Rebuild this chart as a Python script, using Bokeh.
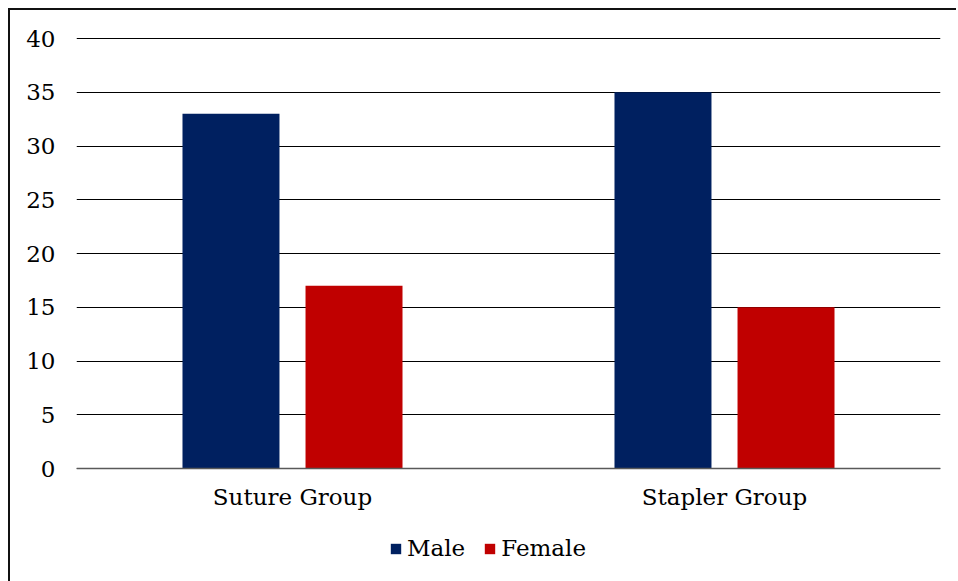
from bokeh.plotting import figure
from bokeh.models import ColumnDataSource, Legend, LegendItem, FixedTicker
from bokeh.transform import dodge
from bokeh.embed import file_html
from bokeh.resources import INLINE

categories = ["Suture Group", "Stapler Group"]
male = [33, 35]
female = [17, 15]
y_ticks = [0, 5, 10, 15, 20, 25, 30, 35, 40]
series_names = ["Male", "Female"]
colors = ["#002060", "#C00000"]

FONT = "DejaVu Serif"

src = ColumnDataSource(dict(cat=categories, male=male, female=female))

# y range extends below 0 so the category labels and legend sit inside the frame
p = figure(
    x_range=categories, y_range=(-9.674, 40.1),
    output_backend="svg", toolbar_location=None,
    min_border_left=66, min_border_right=16,
    min_border_top=27, min_border_bottom=12,
    frame_width=864, frame_height=535,
    outline_line_color=None,
    styles={"border-left": "2px solid #111111", "border-top": "2px solid #111111",
            "margin-left": "8px", "margin-top": "8px"},
)

r1 = p.vbar(x=dodge("cat", -0.1424, range=p.x_range), top="male", width=0.2245,
            source=src, fill_color=colors[0], line_color=None)
r2 = p.vbar(x=dodge("cat", 0.1424, range=p.x_range), top="female", width=0.2245,
            source=src, fill_color=colors[1], line_color=None)

p.xgrid.grid_line_color = None
p.ygrid.grid_line_color = "#000000"
p.ygrid.grid_line_width = 1
p.yaxis.ticker = FixedTicker(ticks=y_ticks)

p.yaxis.axis_line_color = None
p.yaxis.major_tick_line_color = None
p.yaxis.minor_tick_line_color = None
p.yaxis.major_label_standoff = 15
p.yaxis.major_label_text_font = FONT
p.yaxis.major_label_text_font_size = "23px"
p.yaxis.major_label_text_color = "#000000"

p.xaxis.fixed_location = 0
p.xaxis.axis_line_color = "#595959"
p.xaxis.axis_line_width = 1.5
p.xaxis.major_tick_line_color = None
p.xaxis.minor_tick_line_color = None
p.xaxis.major_label_standoff = 9
p.xaxis.major_label_text_font = FONT
p.xaxis.major_label_text_font_size = "23px"
p.xaxis.major_label_text_color = "#000000"

legend = Legend(
    items=[LegendItem(label=series_names[0], renderers=[r1]),
           LegendItem(label=series_names[1], renderers=[r2])],
    orientation="horizontal", location=(313, 11),
    label_text_font=FONT, label_text_font_size="23px", label_text_color="#000000",
    glyph_width=13, glyph_height=13, label_standoff=5, spacing=18,
    border_line_color=None, background_fill_alpha=0, padding=2, margin=0,
)
p.add_layout(legend, "center")

open("out.html", "w").write(file_html(p, INLINE))
